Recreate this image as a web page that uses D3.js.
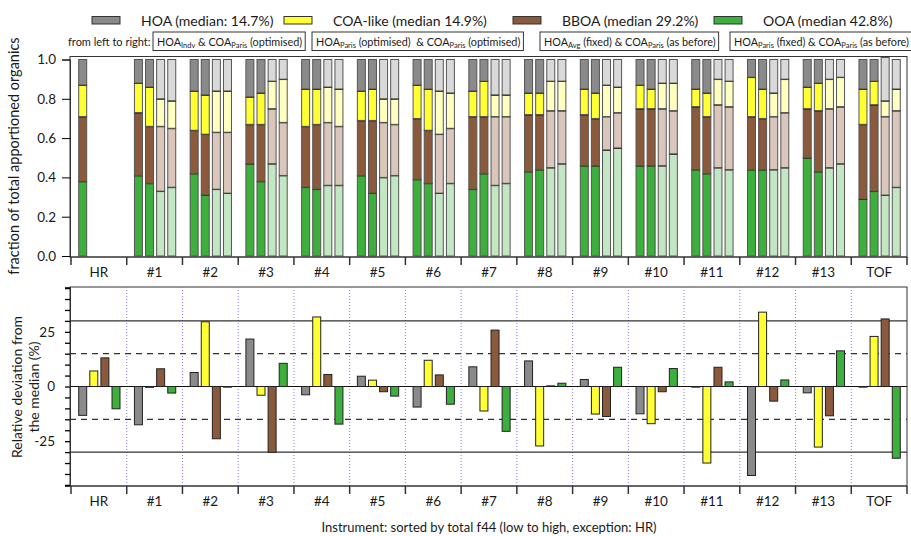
<!DOCTYPE html>
<html>
<head>
<meta charset="utf-8">
<script src="https://cdn.jsdelivr.net/npm/d3@7"></script>
<style>
  body { margin: 0; background: #fff; }
  text { font-family: Lato, "Noto Sans", sans-serif; fill: #1a1a1a; }
</style>
</head>
<body>
<svg id="chart" width="911" height="536"></svg>
<script>
// instruments, left to right
const groups = ["HR", "#1", "#2", "#3", "#4", "#5", "#6", "#7", "#8", "#9", "#10", "#11", "#12", "#13", "TOF"];
const factors = ["OOA", "BBOA", "COA", "HOA"];
const legendLabels = ["HOA (median: 14.7%)", "COA-like (median 14.9%)", "BBOA (median 29.2%)", "OOA (median 42.8%)"];

// fraction of total apportioned organics, 4 runs per instrument (HR only one)
const ooaFrac = [[.38], [.41, .37, .33, .35], [.42, .31, .34, .32], [.47, .38, .47, .41], [.35, .34, .36, .36],
  [.41, .32, .40, .41], [.39, .37, .32, .37], [.34, .42, .36, .37], [.43, .44, .45, .47], [.46, .46, .54, .55],
  [.46, .46, .46, .52], [.44, .42, .45, .44], [.44, .44, .44, .45], [.50, .43, .45, .47], [.29, .33, .31, .35]];
const bboaFrac = [[.33], [.32, .29, .33, .30], [.22, .31, .29, .31], [.20, .29, .28, .27], [.31, .33, .32, .30],
  [.28, .37, .28, .26], [.31, .27, .30, .28], [.37, .29, .35, .34], [.29, .28, .29, .27], [.26, .24, .17, .18],
  [.29, .29, .29, .22], [.32, .29, .32, .32], [.27, .26, .27, .28], [.25, .31, .30, .29], [.38, .44, .40, .39]];
const coaFrac = [[.16], [.15, .20, .14, .14], [.20, .20, .21, .21], [.14, .16, .14, .22], [.19, .18, .18, .19],
  [.15, .16, .12, .13], [.17, .21, .22, .18], [.13, .18, .11, .11], [.11, .11, .15, .15], [.13, .13, .16, .13],
  [.12, .10, .13, .14], [.09, .12, .13, .13], [.20, .15, .12, .17], [.11, .14, .15, .15], [.18, .12, .08, .11]];
const hoaFrac = [[.13], [.12, .14, .20, .21], [.16, .18, .16, .16], [.19, .17, .11, .10], [.15, .15, .14, .15],
  [.16, .15, .20, .20], [.13, .15, .16, .17], [.16, .11, .18, .18], [.17, .17, .11, .11], [.15, .17, .13, .14],
  [.13, .15, .12, .12], [.15, .17, .10, .11], [.09, .15, .17, .10], [.14, .12, .10, .09], [.15, .11, .22, .15]];

// relative deviation from the median (%)
const hoaDev  = [-13.2, -17.5, 6.4, 21.7, -3.8, 4.7, -9.4, 9.0, 11.7, 3.2, -12.5, -0.3, -40.7, -2.9, -0.3];
const coaDev  = [7.1, -0.4, 29.6, -4.0, 31.8, 2.9, 12.0, -11.2, -27.2, -12.6, -17.0, -35.0, 34.0, -27.7, 22.9];
const bboaDev = [13.1, 8.1, -23.9, -30.1, 5.5, -2.4, 5.3, 25.8, 0.3, -13.7, -2.4, 8.8, -6.7, -13.4, 30.9];
const ooaDev  = [-10.2, -3.0, -0.3, 10.6, -17.2, -4.4, -8.1, -20.5, 1.5, 8.8, 8.2, 2.1, 3.0, 16.3, -32.8];

const colors = { HOA: "#8a8a8a", COA: "#ffff33", BBOA: "#8b5a3c", OOA: "#3caf3c" };
const lightColors = { HOA: "#d9d9d9", COA: "#ffffc0", BBOA: "#dbc6bb", OOA: "#c2e7c2" };

const svg = d3.select("#chart");
const left = 70, right = 907;

const x = d3.scaleBand().domain(groups).range([71, right]);
const xi = d3.scaleBand().domain([0, 1, 2, 3]).range([7.7, 49]).paddingInner(0.28);

// ---------- top panel ----------
const y = d3.scaleLinear().domain([0, 1]).range([256, 59.5]);

const rows = [];
groups.forEach((g, gi) => {
  ooaFrac[gi].forEach((v, i) => {
    rows.push({ group: g, idx: i, OOA: v, BBOA: bboaFrac[gi][i], COA: coaFrac[gi][i], HOA: hoaFrac[gi][i] });
  });
});
const series = d3.stack().keys(factors)(rows);

svg.append("rect")
  .attr("x", left).attr("y", 56.5).attr("width", right - left).attr("height", 200.5)
  .attr("fill", "none").attr("stroke", "#333").attr("stroke-width", 1);

const topG = svg.append("g");
series.forEach(s => {
  topG.append("g").selectAll("rect")
    .data(s)
    .join("rect")
    .attr("x", d => x(d.data.group) + xi(d.data.idx))
    .attr("width", xi.bandwidth())
    .attr("y", d => y(d[1]))
    .attr("height", d => y(d[0]) - y(d[1]))
    .attr("fill", d => d.data.idx < 2 ? colors[s.key] : lightColors[s.key])
    .attr("stroke", "#555")
    .attr("stroke-width", 1);
  if (s.key !== "HOA") {
    topG.append("g").selectAll("line")
      .data(s)
      .join("line")
      .attr("x1", d => x(d.data.group) + xi(d.data.idx))
      .attr("x2", d => x(d.data.group) + xi(d.data.idx) + xi.bandwidth())
      .attr("y1", d => y(d[1]))
      .attr("y2", d => y(d[1]))
      .attr("stroke", "#111")
      .attr("stroke-width", 1.8);
  }
});

const yAxisTop = svg.append("g")
  .attr("transform", `translate(${left},0)`)
  .call(d3.axisLeft(y).tickValues([0, .2, .4, .6, .8, 1]).tickFormat(d3.format(".1f")).tickSize(8).tickPadding(6));
yAxisTop.select(".domain").attr("stroke", "#333");
yAxisTop.selectAll("text").style("font-size", "13.5px");

// group ticks + labels for both panels
function groupAxis(yPos, labelY) {
  const g = svg.append("g");
  g.append("line").attr("x1", left).attr("x2", right).attr("y1", yPos).attr("y2", yPos).attr("stroke", "#333");
  g.selectAll("line.tk")
    .data(d3.range(groups.length + 1))
    .join("line")
    .attr("class", "tk")
    .attr("x1", i => i < groups.length ? x(groups[i]) : right)
    .attr("x2", i => i < groups.length ? x(groups[i]) : right)
    .attr("y1", yPos).attr("y2", yPos + 8)
    .attr("stroke", "#333").attr("stroke-width", 1.5);
  g.selectAll("text")
    .data(groups)
    .join("text")
    .attr("x", d => x(d) + x.bandwidth() / 2)
    .attr("y", labelY)
    .attr("text-anchor", "middle")
    .style("font-size", "13.5px")
    .text(d => d);
}
groupAxis(257, 277);

svg.append("text")
  .attr("transform", "translate(19,156) rotate(-90)")
  .attr("text-anchor", "middle")
  .style("font-size", "14.5px")
  .text("fraction of total apportioned organics");

// ---------- bottom panel ----------
const y2 = d3.scaleLinear().domain([-45.5, 45.5]).range([486, 287]);

svg.append("rect")
  .attr("x", left).attr("y", 287).attr("width", right - left).attr("height", 199)
  .attr("fill", "none").attr("stroke", "#333").attr("stroke-width", 1);

// blue dotted separators between instruments
svg.append("g").selectAll("line")
  .data(groups.slice(1))
  .join("line")
  .attr("x1", d => x(d)).attr("x2", d => x(d))
  .attr("y1", 287).attr("y2", 486)
  .attr("stroke", "#7b7bff").attr("stroke-width", 1).attr("stroke-dasharray", "1,2");

const refLines = [
  { v: 30, dash: null }, { v: -30, dash: null },
  { v: 15, dash: "6,5" }, { v: -15, dash: "6,5" }, { v: 0, dash: null }
];
svg.append("g").selectAll("line")
  .data(refLines)
  .join("line")
  .attr("x1", left).attr("x2", right)
  .attr("y1", d => y2(d.v)).attr("y2", d => y2(d.v))
  .attr("stroke", d => d.v === 0 ? "#111" : "#333")
  .attr("stroke-width", d => Math.abs(d.v) === 30 ? 1.3 : 1.2)
  .attr("stroke-dasharray", d => d.dash);

const devs = [
  { key: "HOA", vals: hoaDev }, { key: "COA", vals: coaDev },
  { key: "BBOA", vals: bboaDev }, { key: "OOA", vals: ooaDev }
];
devs.forEach((s, si) => {
  svg.append("g").selectAll("rect")
    .data(s.vals)
    .join("rect")
    .attr("x", (d, gi) => x(groups[gi]) + xi(si))
    .attr("width", xi.bandwidth())
    .attr("y", d => y2(Math.max(0, d)))
    .attr("height", d => Math.abs(y2(d) - y2(0)))
    .attr("fill", colors[s.key])
    .attr("stroke", "#222")
    .attr("stroke-width", 1);
});

const yAxisBot = svg.append("g")
  .attr("transform", `translate(${left},0)`)
  .call(d3.axisLeft(y2).tickValues(d3.range(-45, 46, 5)).tickSize(5).tickPadding(10)
    .tickFormat(d => [-25, 0, 25].includes(d) ? d : ""));
yAxisBot.select(".domain").attr("stroke", "#333");
yAxisBot.selectAll("line").attr("stroke-width", 1.3);
yAxisBot.selectAll("text").style("font-size", "13.5px");

groupAxis(486, 506);

svg.append("text")
  .attr("transform", "translate(22,387) rotate(-90)")
  .attr("text-anchor", "middle")
  .style("font-size", "14px")
  .selectAll("tspan")
  .data(["Relative deviation from", "the median (%)"])
  .join("tspan")
  .attr("x", 0)
  .attr("dy", (d, i) => i === 0 ? 0 : 17)
  .text(d => d);

svg.append("text")
  .attr("x", 489).attr("y", 532)
  .attr("text-anchor", "middle")
  .style("font-size", "13px")
  .text("Instrument: sorted by total f44 (low to high, exception: HR)");

// ---------- legend ----------
const legendKeys = ["HOA", "COA", "BBOA", "OOA"];
const legendX = [92, 284, 513, 714];
legendKeys.forEach((k, i) => {
  svg.append("rect")
    .attr("x", legendX[i]).attr("y", 16.5).attr("width", 28).attr("height", 7.5)
    .attr("fill", colors[k]).attr("stroke", "#333").attr("stroke-width", 1);
  svg.append("text")
    .attr("x", legendX[i] + 49).attr("y", 26)
    .style("font-size", "14px")
    .text(legendLabels[i]);
});

svg.append("text")
  .attr("x", 68).attr("y", 46)
  .style("font-size", "11px")
  .text("from left to right:");

const runBoxes = [
  [["HOA", ""], ["Indv", "sub"], [" & COA", ""], ["Paris", "sub"], [" (optimised)", ""]],
  [["HOA", ""], ["Paris", "sub"], [" (optimised)  & COA", ""], ["Paris", "sub"], [" (optimised)", ""]],
  [["HOA", ""], ["Avg", "sub"], [" (fixed) & COA", ""], ["Paris", "sub"], [" (as before)", ""]],
  [["HOA", ""], ["Paris", "sub"], [" (fixed) & COA", ""], ["Paris", "sub"], [" (as before)", ""]]
];
const boxX = [153, 312, 540, 730];
runBoxes.forEach((parts, i) => {
  const box = svg.append("g");
  const frame = box.append("rect")
    .attr("x", boxX[i]).attr("y", 32).attr("height", 18.5)
    .attr("fill", "#fff").attr("stroke", "#333").attr("stroke-width", 1);
  const t = box.append("text")
    .attr("x", boxX[i] + 4).attr("y", 45.5)
    .style("font-size", "10.8px")
    .style("white-space", "pre");
  parts.forEach((p, j) => {
    const prev = j > 0 ? parts[j - 1][1] : "";
    const ts = t.append("tspan").text(p[0])
      .attr("dy", p[1] === "sub" ? 2 : (prev === "sub" ? -2 : 0));
    if (p[1] === "sub") ts.style("font-size", "7.5px");
  });
  frame.attr("width", t.node().getBBox().width + 7);
});
</script>
</body>
</html>
